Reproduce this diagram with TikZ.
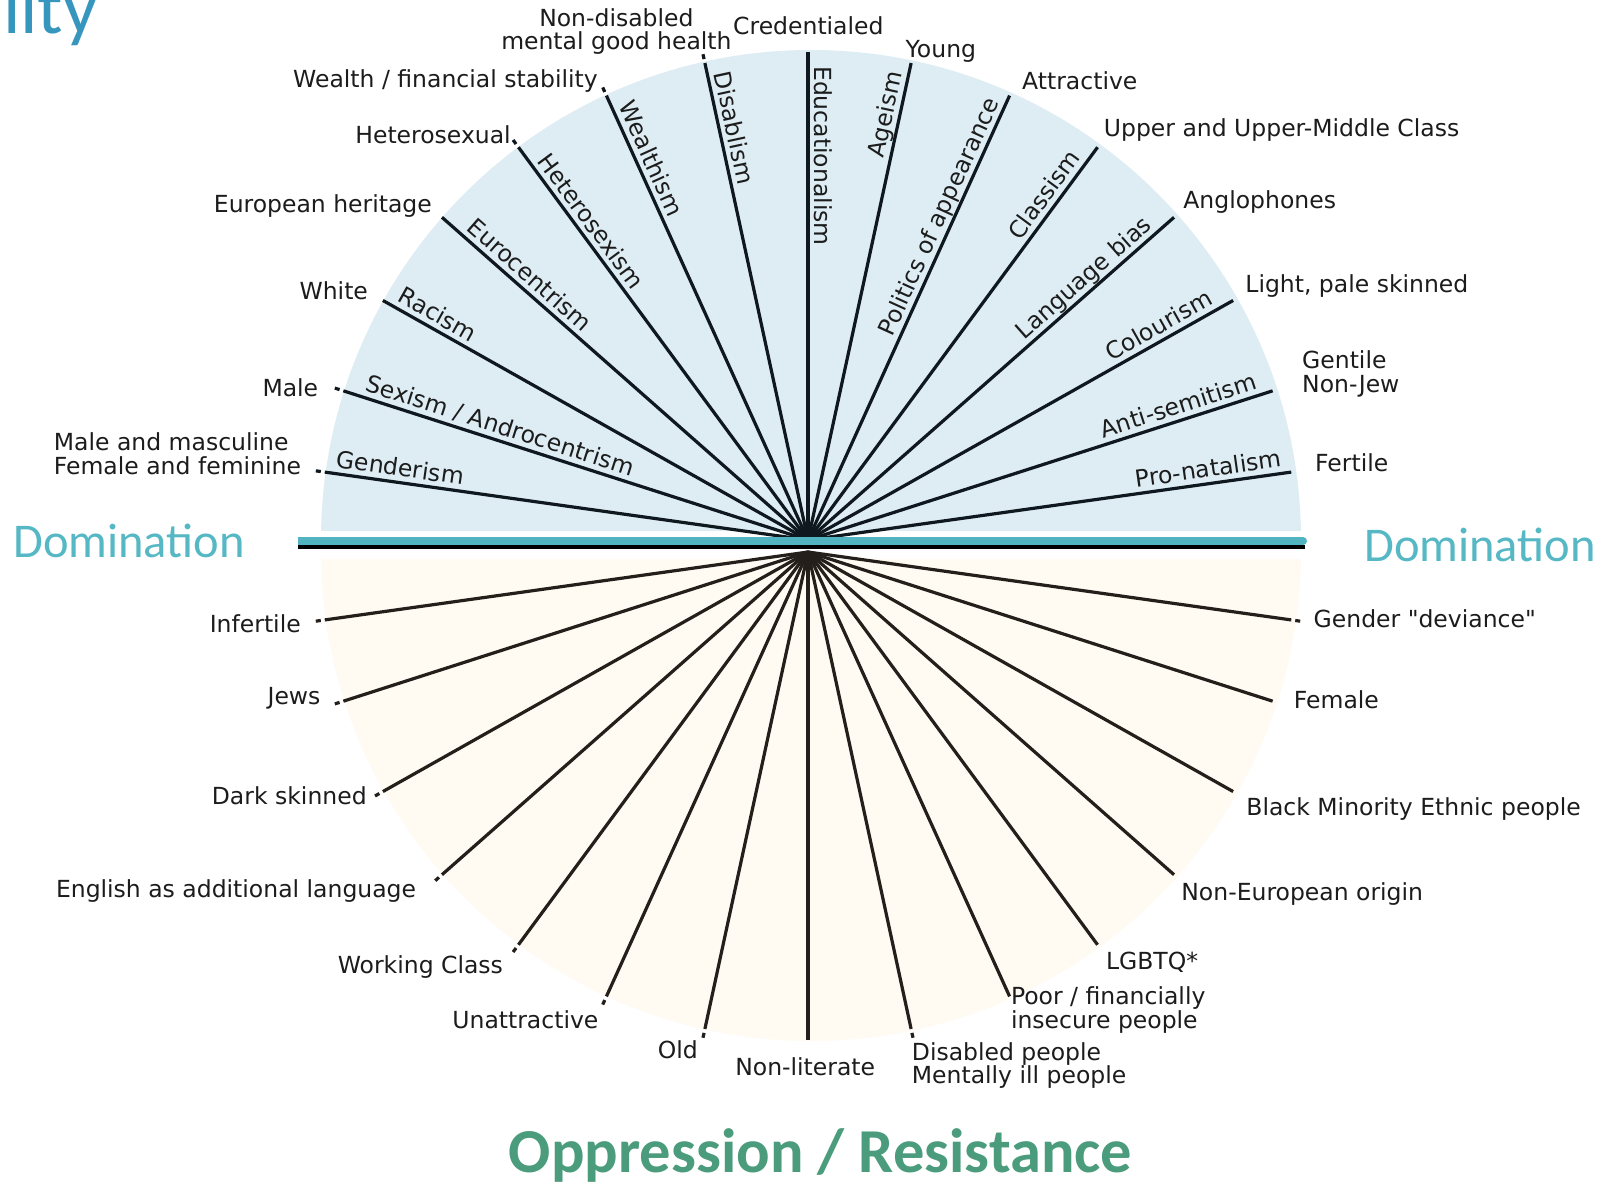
\documentclass[tikz,border=0pt]{standalone}
\usepackage{fontspec}
\setmainfont{DejaVu Sans}[Ligatures=TeXOff]
\newfontfamily\calibfont{Carlito}
\usetikzlibrary{calc}

\definecolor{skyfill}{RGB}{221,237,243}
\definecolor{creamfill}{RGB}{255,250,242}
\definecolor{upline}{RGB}{14,24,30}
\definecolor{lowline}{RGB}{36,31,26}
\definecolor{labelgray}{RGB}{28,28,28}
\definecolor{tealbar}{RGB}{82,180,192}
\definecolor{domtext}{RGB}{86,184,196}
\definecolor{oppgreen}{RGB}{75,155,125}
\definecolor{titleblue}{RGB}{55,150,190}

\begin{document}
\begin{tikzpicture}[x=1pt,y=1pt,
  lbl/.style={inner sep=0pt, text=labelgray, font=\fontsize{23.5}{23.5}\selectfont},
  spoketext/.style={lbl},
  upspoke/.style={line width=3.2pt, draw=upline},
  lowspoke/.style={line width=3.2pt, draw=lowline},
  dom/.style={inner sep=0pt, text=domtext, font=\calibfont\fontsize{48.5}{48.5}\selectfont},
  opp/.style={inner sep=0pt, text=oppgreen, font=\calibfont\bfseries\fontsize{62.5}{62.5}\selectfont},
  ttl/.style={inner sep=0pt, text=titleblue, font=\calibfont\fontsize{76}{76}\selectfont},
]
\useasboundingbox (0,0) rectangle (1619,-1186);
\fill[white] (0,0) rectangle (1619,-1186);

% background half discs
\begin{scope}
  \clip (0,-530) rectangle (1619,0);
  \fill[skyfill] (811,-540) circle (490);
\end{scope}
\begin{scope}
  \clip (0,-559) rectangle (1619,-1186);
  \fill[creamfill] (811,-551) circle (490);
\end{scope}

% hubs of the two fans
\coordinate (U) at (808,-540);
\coordinate (L) at (808,-552);

% upper fan: privilege side
\foreach \i/\ang in {1/172, 2/162.2, 3/150.6, 4/138.6, 5/126.4, 6/114.4, 7/102.2, 8/90,
                     9/77.8, 10/65.6, 11/53.6, 12/41.4, 13/29.4, 14/17.8, 15/8} {
  \coordinate (u\i) at ($(U)+(\ang:488)$);
  \draw[upspoke] (U) -- (u\i);
}
% lower fan: oppressed side
\foreach \i/\ang in {1/188, 2/197.8, 3/209.4, 4/221.4, 5/233.6, 6/245.6, 7/257.8, 8/270,
                     9/282.2, 10/294.4, 11/306.4, 12/318.6, 13/330.6, 14/342.2, 15/352} {
  \coordinate (l\i) at ($(L)+(\ang:488)$);
  \draw[lowspoke] (L) -- (l\i);
}

% short tick ends beyond some spokes
\foreach \ang in {172, 162.2, 126.4, 114.4, 102.2}
  \draw[upspoke] ($(U)+(\ang:492)$) -- ($(U)+(\ang:497)$);
\foreach \ang in {188, 197.8, 209.4, 221.4, 233.6, 245.6, 257.8, 282.2, 352}
  \draw[lowspoke] ($(L)+(\ang:492)$) -- ($(L)+(\ang:497)$);

% names of the isms along the upper spokes
\foreach \i/\ang/\rad/\txt [evaluate=\ang as \pang using \ang-90,
                            evaluate=\ang as \rot using \ang-180] in
  {1/172/478/Genderism, 2/162.2/468/{Sexism / Androcentrism}, 3/150.6/476/Racism,
   4/138.6/462/Eurocentrism, 5/126.4/466/Heterosexism, 6/114.4/474/Wealthism,
   7/102.2/476/Disablism, 8/90/474/Educationalism}
  \path ($(U)+(\ang:\rad)+(\pang:6.5)$) node[spoketext, rotate=\rot, anchor=base west] (s\i) {\txt};
\foreach \i/\ang/\rad/\txt [evaluate=\ang as \pang using \ang+90] in
  {9/77.8/476/Ageism, 10/65.6/478/Politics of appearance, 11/53.6/470/Classism,
   12/41.4/466/Language bias, 13/29.4/470/Colourism, 14/17.8/475/Anti-semitism,
   15/8/480/Pro-natalism}
  \path ($(U)+(\ang:\rad)+(\pang:6.5)$) node[spoketext, rotate=\ang, anchor=base east] (s\i) {\txt};

% privileged groups
\node[lbl, align=left, anchor=north west] (p1) at (53.7,-432.6) {Male and masculine\\Female and feminine};
\node[lbl, anchor=base west] (p2) at (262.3,-396.7) {Male};
\node[lbl, anchor=base west] (p3) at (299.4,-299.7) {White};
\node[lbl, anchor=base west] (p4) at (213.7,-212.9) {European heritage};
\node[lbl, anchor=base west] (p5) at (355.2,-143.8) {Heterosexual};
\node[lbl, anchor=base west] (p6) at (293,-87.5) {Wealth / financial stability};
\node[lbl, align=center, anchor=north] (p7) at (616.4,-8.1) {Non-disabled\\mental good health};
\node[lbl, anchor=base west] (p8) at (733,-34.3) {Credentialed};
\node[lbl, anchor=base west] (p9) at (905.5,-57) {Young};
\node[lbl, anchor=base west] (p10) at (1022,-89) {Attractive};
\node[lbl, anchor=base west] (p11) at (1103.7,-136.5) {Upper and Upper-Middle Class};
\node[lbl, anchor=base west] (p12) at (1183.2,-208.8) {Anglophones};
\node[lbl, anchor=base west] (p13) at (1245.2,-292.5) {Light, pale skinned};
\node[lbl, align=left, anchor=north west] (p14) at (1302,-350.9) {Gentile\\Non-Jew};
\node[lbl, anchor=base west] (p15) at (1315,-471.3) {Fertile};

% oppressed groups
\node[lbl, anchor=base west] (o1) at (209.6,-632.3) {Infertile};
\node[lbl, anchor=base west] (o2) at (267.4,-704.5) {Jews};
\node[lbl, anchor=base west] (o3) at (211.7,-804.5) {Dark skinned};
\node[lbl, anchor=base west] (o4) at (55.8,-897.3) {English as additional language};
\node[lbl, anchor=base west] (o5) at (337.6,-973.9) {Working Class};
\node[lbl, anchor=base west] (o6) at (452.2,-1028.6) {Unattractive};
\node[lbl, anchor=base west] (o7) at (657.7,-1058) {Old};
\node[lbl, anchor=base west] (o8) at (735.1,-1075) {Non-literate};
\node[lbl, align=left, anchor=north west] (o9) at (911.7,-1042.1) {Disabled people\\Mentally ill people};
\node[lbl, align=left, anchor=north west] (o10) at (1010.8,-986.6) {Poor / financially\\insecure people};
\node[lbl, anchor=base west] (o11) at (1105.8,-969.9) {LGBTQ*};
\node[lbl, anchor=base west] (o12) at (1181.2,-900.6) {Non-European origin};
\node[lbl, anchor=base west] (o13) at (1246.2,-815.9) {Black Minority Ethnic people};
\node[lbl, anchor=base west] (o14) at (1293.7,-708.5) {Female};
\node[lbl, anchor=base west] (o15) at (1313.5,-627) {Gender "deviance"};

% dividing bar
\coordinate (barL) at (298,-541);
\coordinate (barR) at (1303,-541);
\draw[black, line width=4pt] ($(barL)+(0,-5.5)$) -- ($(barR)+(2,-5.5)$);
\draw[tealbar, line width=8pt] (barL) -- (barR);
\fill[tealbar] (barR) circle (4);

% headings
\node[dom, anchor=base west] (domL) at (13,-557) {Domination};
\node[dom, anchor=base west] (domR) at (1364,-561) {Domination};
\node[opp, anchor=base] (oppres) at (820.5,-1172) {Oppression / Resistance};
\node[ttl, anchor=base east] (heading) at (98,-33) {lity};
\end{tikzpicture}
\end{document}
